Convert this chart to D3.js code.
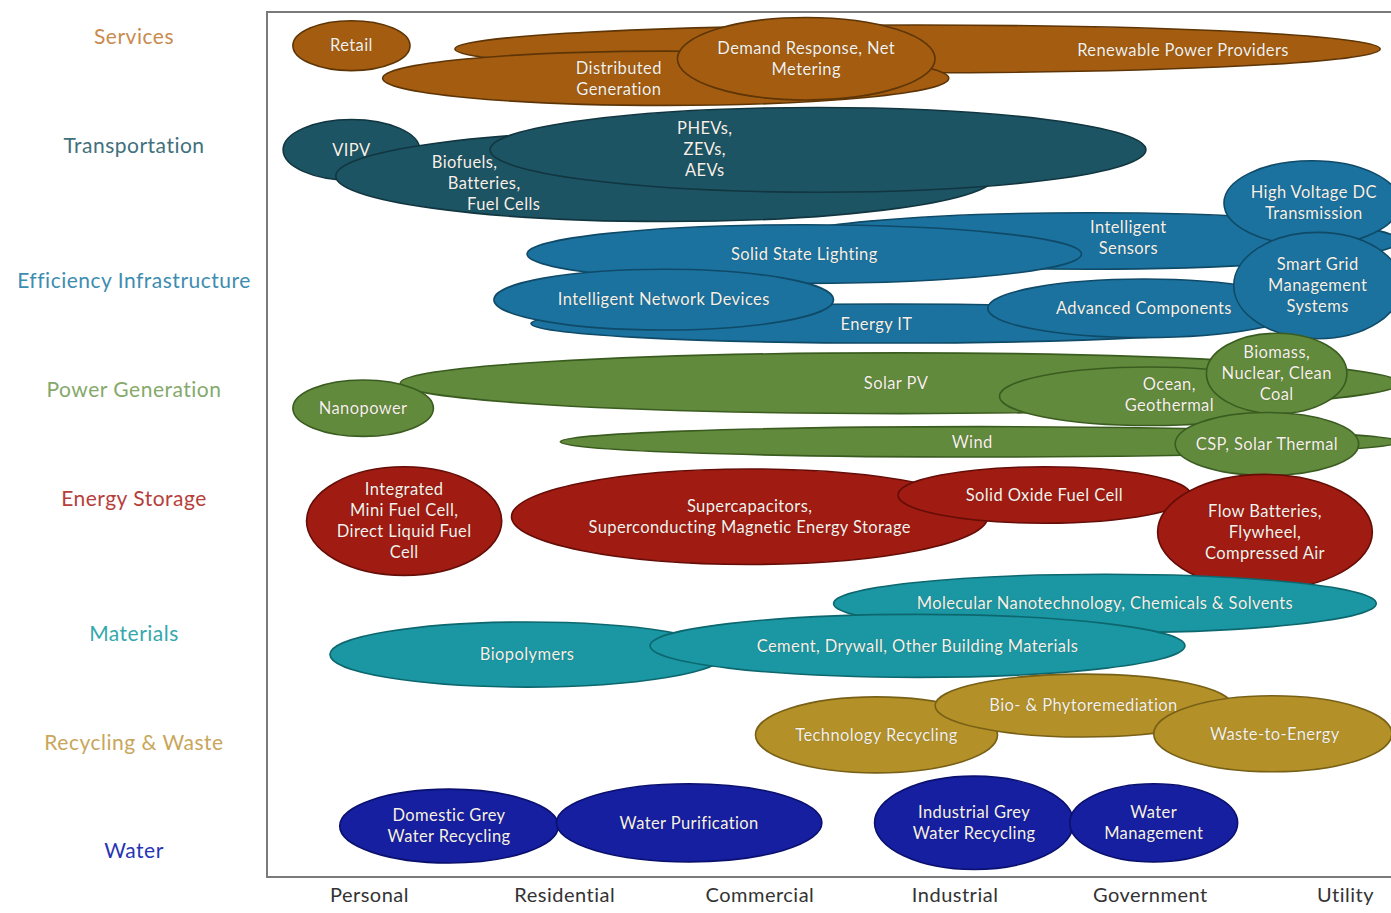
<!DOCTYPE html>
<html>
<head>
<meta charset="utf-8">
<script src="https://cdn.jsdelivr.net/npm/d3@7"></script>
<style>
  html, body { margin: 0; padding: 0; background: #fff; overflow: hidden; }
  svg text { font-family: Lato, "Open Sans", sans-serif; }
  .bubble-label { fill: #f6f1ea; font-size: 16.5px; letter-spacing: 0.4px; text-shadow: 0 0 1px rgba(0,0,0,0.35); }
  .axis path, .axis line { display: none; }
  .axis text { font-size: 21px; letter-spacing: 0.5px; }
</style>
</head>
<body>
<div id="chart"></div>
<script>
// market segments along the bottom
var sectors = ["Personal", "Residential", "Commercial", "Industrial", "Government", "Utility"];

// technology areas down the left, with their row position
var areas = ["Services", "Transportation", "Efficiency Infrastructure", "Power Generation",
             "Energy Storage", "Materials", "Recycling & Waste", "Water"];
var areaRows = [0, 1, 2.25, 3.25, 4.25, 5.5, 6.5, 7.5];

var areaFill   = ["#a45d10", "#1d5464", "#1b729e", "#628a3c", "#a01b12", "#1a97a2", "#b39128", "#161fa0"];
var areaStroke = ["#5e3506", "#113640", "#0f4a68", "#3b5c20", "#650d07", "#0d676f", "#786017", "#0a106e"];
var areaLabel  = ["#c98a4e", "#41707c", "#3d8db0", "#85a96b", "#b5403b", "#34a8ac", "#c8a65a", "#2634b5"];

// technologies: area index, text lines, centre (sector units, row units), radii,
// optional text anchor and per-line horizontal stagger (sector units)
var technologies = [
  { a: 0, t: ["Renewable Power Providers"], cx: 2.81, cy: 0.11, rx: 2.37, ry: 0.22, lx: 4.17, ly: 0.12 },
  { a: 0, t: ["Distributed", "Generation"], cx: 1.52, cy: 0.38, rx: 1.45, ry: 0.25, lx: 1.28, ly: 0.38 },
  { a: 0, t: ["Demand Response, Net", "Metering"], cx: 2.24, cy: 0.20, rx: 0.66, ry: 0.38 },
  { a: 0, t: ["Retail"], cx: -0.09, cy: 0.08, rx: 0.30, ry: 0.23 },

  { a: 1, t: ["VIPV"], cx: -0.09, cy: 1.04, rx: 0.35, ry: 0.28 },
  { a: 1, t: ["Biofuels,", "Batteries,", "Fuel Cells"], cx: 1.52, cy: 1.28, rx: 1.69, ry: 0.42, lx: 0.59, ly: 1.35, st: 0.1 },
  { a: 1, t: ["PHEVs,", "ZEVs,", "AEVs"], cx: 2.30, cy: 1.04, rx: 1.68, ry: 0.39, lx: 1.72, ly: 1.03 },

  { a: 2, t: ["Intelligent", "Sensors"], cx: 3.69, cy: 1.88, rx: 1.59, ry: 0.26, lx: 3.89, ly: 1.85 },
  { a: 2, t: ["Solid State Lighting"], cx: 2.23, cy: 2.00, rx: 1.42, ry: 0.27 },
  { a: 2, t: ["Energy IT"], cx: 2.67, cy: 2.64, rx: 1.84, ry: 0.18, lx: 2.60, ly: 2.65 },
  { a: 2, t: ["Intelligent Network Devices"], cx: 1.51, cy: 2.42, rx: 0.87, ry: 0.28 },
  { a: 2, t: ["Advanced Components"], cx: 3.97, cy: 2.50, rx: 0.80, ry: 0.27 },
  { a: 2, t: ["High Voltage DC", "Transmission"], cx: 4.83, cy: 1.53, rx: 0.45, ry: 0.39, lx: 4.84, ly: 1.53 },
  { a: 2, t: ["Smart Grid", "Management", "Systems"], cx: 4.86, cy: 2.29, rx: 0.43, ry: 0.49 },

  { a: 3, t: ["Solar PV"], cx: 2.72, cy: 3.19, rx: 2.56, ry: 0.28, lx: 2.70, ly: 3.19 },
  { a: 3, t: ["Nanopower"], cx: -0.03, cy: 3.42, rx: 0.36, ry: 0.26 },
  { a: 3, t: ["Ocean,", "Geothermal"], cx: 4.00, cy: 3.31, rx: 0.77, ry: 0.27, lx: 4.10, ly: 3.30 },
  { a: 3, t: ["Biomass,", "Nuclear, Clean", "Coal"], cx: 4.65, cy: 3.10, rx: 0.36, ry: 0.37 },
  { a: 3, t: ["Wind"], cx: 3.13, cy: 3.73, rx: 2.15, ry: 0.14, lx: 3.09, ly: 3.73 },
  { a: 3, t: ["CSP, Solar Thermal"], cx: 4.60, cy: 3.75, rx: 0.47, ry: 0.29 },

  { a: 4, t: ["Integrated", "Mini Fuel Cell,", "Direct Liquid Fuel", "Cell"], cx: 0.18, cy: 4.46, rx: 0.50, ry: 0.50 },
  { a: 4, t: ["Supercapacitors,", "Superconducting Magnetic Energy Storage"], cx: 1.95, cy: 4.42, rx: 1.22, ry: 0.44 },
  { a: 4, t: ["Solid Oxide Fuel Cell"], cx: 3.46, cy: 4.22, rx: 0.75, ry: 0.26 },
  { a: 4, t: ["Flow Batteries,", "Flywheel,", "Compressed Air"], cx: 4.59, cy: 4.56, rx: 0.55, ry: 0.53 },

  { a: 5, t: ["Molecular Nanotechnology, Chemicals & Solvents"], cx: 3.77, cy: 5.22, rx: 1.39, ry: 0.27 },
  { a: 5, t: ["Biopolymers"], cx: 0.81, cy: 5.69, rx: 1.01, ry: 0.30 },
  { a: 5, t: ["Cement, Drywall, Other Building Materials"], cx: 2.81, cy: 5.61, rx: 1.37, ry: 0.29 },

  { a: 6, t: ["Technology Recycling"], cx: 2.60, cy: 6.43, rx: 0.62, ry: 0.35 },
  { a: 6, t: ["Bio- & Phytoremediation"], cx: 3.66, cy: 6.16, rx: 0.76, ry: 0.29 },
  { a: 6, t: ["Waste-to-Energy"], cx: 4.63, cy: 6.42, rx: 0.61, ry: 0.35, lx: 4.64, ly: 6.42 },

  { a: 7, t: ["Domestic Grey", "Water Recycling"], cx: 0.41, cy: 7.27, rx: 0.56, ry: 0.34 },
  { a: 7, t: ["Water Purification"], cx: 1.64, cy: 7.24, rx: 0.68, ry: 0.36 },
  { a: 7, t: ["Industrial Grey", "Water Recycling"], cx: 3.10, cy: 7.24, rx: 0.51, ry: 0.43 },
  { a: 7, t: ["Water", "Management"], cx: 4.02, cy: 7.24, rx: 0.43, ry: 0.36 }
];

var width = 1391, height = 913;
var frame = {left: 267, top: 12, bottom: 877};

var x = d3.scaleLinear().domain([0, 5]).range([369, 1345]);
var y = d3.scaleLinear().domain([0, 7.5]).range([37, 851]);
var kx = x(1) - x(0), ky = y(1) - y(0);
var lineH = 21;

var svg = d3.select("#chart").append("svg")
    .attr("width", width)
    .attr("height", height);

svg.append("rect")
    .attr("x", frame.left)
    .attr("y", frame.top)
    .attr("width", width + 20 - frame.left)
    .attr("height", frame.bottom - frame.top)
    .attr("fill", "#fff")
    .attr("stroke", "#7a7a7a")
    .attr("stroke-width", 2);

svg.append("g").selectAll("ellipse")
    .data(technologies)
  .enter().append("ellipse")
    .attr("cx", function(d) { return x(d.cx); })
    .attr("cy", function(d) { return y(d.cy); })
    .attr("rx", function(d) { return d.rx * kx; })
    .attr("ry", function(d) { return d.ry * ky; })
    .attr("fill", function(d) { return areaFill[d.a]; })
    .attr("stroke", function(d) { return areaStroke[d.a]; })
    .attr("stroke-width", 1.6);

// labels sit above every ellipse
svg.append("g").selectAll("text")
    .data(technologies)
  .enter().append("text")
    .attr("class", "bubble-label")
    .attr("text-anchor", "middle")
    .attr("transform", function(d) {
      var px = x(d.lx != null ? d.lx : d.cx),
          py = y(d.ly != null ? d.ly : d.cy) - (d.t.length - 1) * lineH / 2;
      return "translate(" + px + "," + py + ")";
    })
  .selectAll("tspan")
    .data(function(d) {
      var mid = (d.t.length - 1) / 2;
      return d.t.map(function(s, i) { return {s: s, i: i, dx: (i - mid) * (d.st || 0) * kx}; });
    })
  .enter().append("tspan")
    .attr("x", function(l) { return l.dx; })
    .attr("y", function(l) { return l.i * lineH; })
    .attr("dy", "0.35em")
    .text(function(l) { return l.s; });

// sector axis
svg.append("g")
    .attr("class", "axis")
    .attr("transform", "translate(0," + 885 + ")")
    .call(d3.axisBottom(x).tickValues(d3.range(sectors.length)).tickSize(0)
      .tickFormat(function(d) { return sectors[d]; }))
  .selectAll("text")
    .attr("fill", "#333")
    .style("font-size", "20px");

// area axis
svg.append("g")
    .attr("class", "axis")
    .attr("transform", "translate(134,0)")
    .call(d3.axisLeft(y).tickValues(areaRows).tickSize(0)
      .tickFormat(function(d, i) { return areas[i]; }))
  .selectAll("text")
    .attr("x", 0)
    .attr("text-anchor", "middle")
    .attr("fill", function(d, i) { return areaLabel[i]; });
</script>
</body>
</html>
